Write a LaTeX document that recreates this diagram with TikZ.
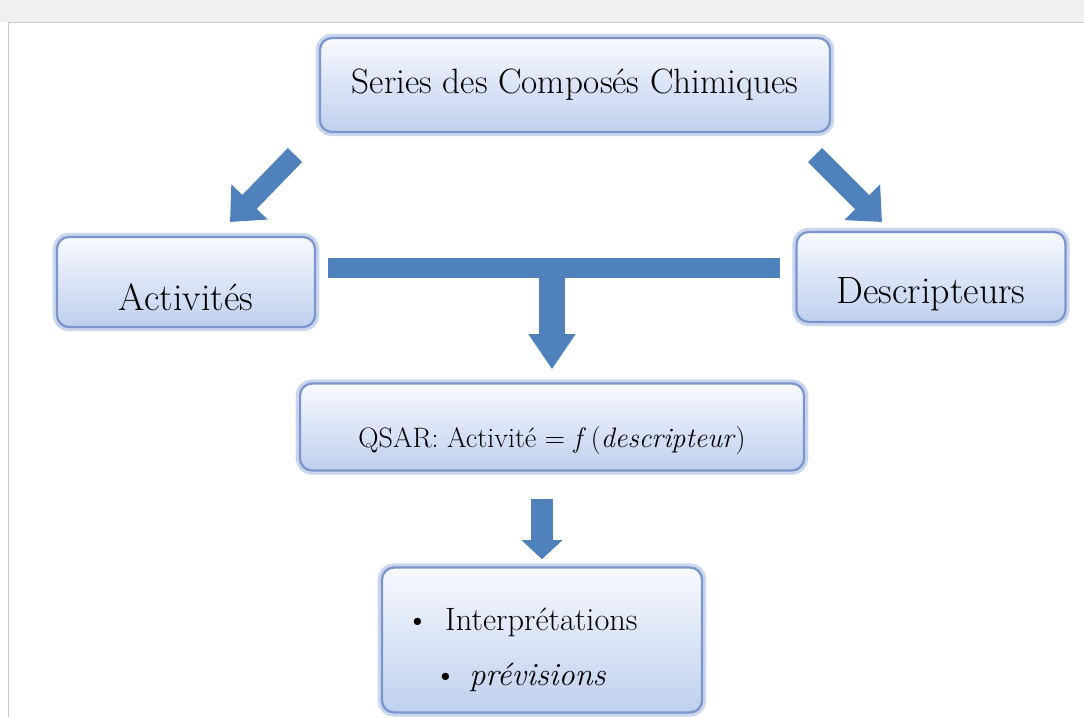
\documentclass[tikz,border=0pt]{standalone}
\usepackage{tikz}
\usetikzlibrary{positioning,arrows.meta}
\definecolor{arrowblue}{HTML}{4F81BD}
\definecolor{boxedge}{HTML}{7B96CC}
\definecolor{boxglow}{HTML}{B4C5E8}
\definecolor{boxtop}{HTML}{F7F9FE}
\definecolor{boxbot}{HTML}{BFD0EE}

\begin{document}
\begin{tikzpicture}[x=0.025cm,y=-0.025cm]
        \tikzstyle{box}=[rounded corners=0.3cm,top color=boxtop,bottom color=boxbot,draw=boxedge,line width=1.6pt,
            preaction={draw=boxglow,line width=6pt,opacity=.7},inner sep=0pt,font=\fontsize{27}{32}\selectfont]
        \tikzstyle{fat}=[draw=arrowblue,line width=0.5cm,-{Triangle[width=1.22cm,length=0.7cm]}]

        \useasboundingbox (0,0) rectangle (1084,717);
        \fill[white] (0,0) rectangle (1084,717);
        \fill[gray!12] (0,0) rectangle (1084,22);
        \draw[gray!45] (8,717) -- (8,22) -- (1084,22);

        \node[box,minimum width=12.75cm,minimum height=2.35cm,font=\fontsize{25}{30}\selectfont] (series) at (575,85) {Series des Compos\'es Chimiques};
        \node[box,minimum width=6.45cm,minimum height=2.25cm] (act) at (186,282) {\raisebox{-0.72cm}[0pt][0pt]{Activit\'es}};
        \node[box,minimum width=6.72cm,minimum height=2.25cm] (desc) at (931,277) {\raisebox{-0.65cm}[0pt][0pt]{Descripteurs}};
        \node[box,minimum width=12.6cm,minimum height=2.17cm,font=\fontsize{20}{24}\selectfont] (qsar) at (552,427)
            {\raisebox{-0.5cm}[0pt][0pt]{QSAR: Activit\'e = \textit{f}\,(\textit{descripteur})}};
        \node[box,minimum width=8cm,minimum height=3.62cm,text width=8cm,align=left,font=\fontsize{23}{39}\selectfont] (interp) at (542,640)
            {\rule{0pt}{1.05cm}\hspace*{0.6cm}\textbullet\hspace{0.4cm}Interpr\'etations\\ \hspace*{1.3cm}\textbullet\hspace{0.3cm}\textit{pr\'evisions}};

        \coordinate (l1) at (295,155);
        \coordinate (l2) at (230,222);
        \coordinate (r1) at (815,155);
        \coordinate (r2) at (882,222);
        \coordinate (bl) at (328,268);
        \coordinate (br) at (780,268);
        \coordinate (bm) at (552,268);

        \draw[fat] (l1) -- (l2);
        \draw[fat] (r1) -- (r2);
        \draw[draw=arrowblue,line width=0.5cm] (bl) -- (br);
        \draw[fat,line width=0.65cm,-{Triangle[width=1.12cm,length=0.88cm]},shorten >=0.33cm] (bm) -- (qsar.north);
        \draw[fat,line width=0.55cm,-{Triangle[width=1.0cm,length=0.48cm]},shorten <=0.68cm,shorten >=0.18cm] (qsar.south -| interp.north) -- (interp.north);
    \end{tikzpicture}
\end{document}
